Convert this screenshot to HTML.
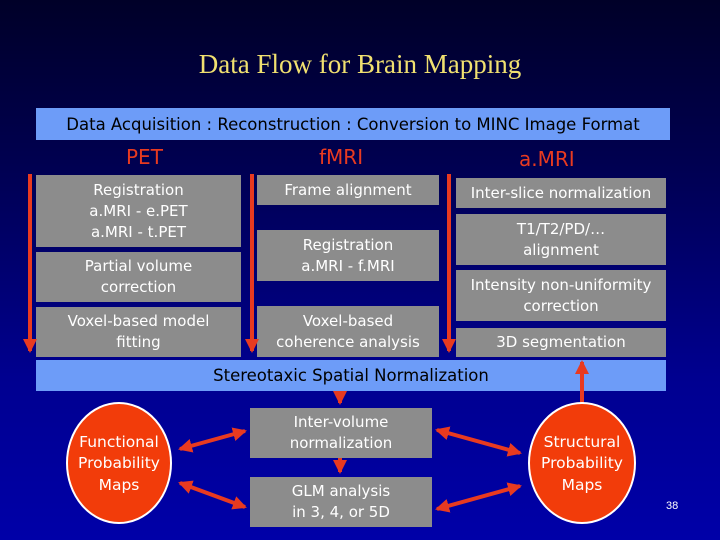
<!DOCTYPE html>
<html><head><meta charset="utf-8"><style>
body{margin:0;width:720px;height:540px;overflow:hidden;background:linear-gradient(#000028 0%,#000050 30%,#000090 70%,#0000a8 100%);font-family:"DejaVu Sans","Liberation Sans",sans-serif;position:relative}
.b{position:absolute;background:#8c8c8c;color:#fff;font-size:15px;line-height:21px;text-align:center;display:flex;align-items:center;justify-content:center}
.bar{position:absolute;background:#6d9cf8;color:#000;font-size:16.5px;display:flex;align-items:center;justify-content:center}
.h{position:absolute;color:#e83a20;font-size:20px}
</style></head><body>
<div style="position:absolute;top:49px;width:720px;text-align:center;font-family:'Liberation Serif',serif;font-size:27px;color:#f0e070">Data Flow for Brain Mapping</div>
<div class="bar" style="left:36px;top:108px;width:634px;height:32px">Data Acquisition : Reconstruction : Conversion to MINC Image Format</div>
<div class="h" style="left:126px;top:145px">PET</div>
<div class="h" style="left:319px;top:145px">fMRI</div>
<div class="h" style="left:519px;top:147px">a.MRI</div>
<div class="b" style="left:36px;top:175px;width:205px;height:72px">Registration<br>a.MRI - e.PET<br>a.MRI - t.PET</div>
<div class="b" style="left:36px;top:252px;width:205px;height:50px">Partial volume<br>correction</div>
<div class="b" style="left:36px;top:307px;width:205px;height:50px">Voxel-based model<br>fitting</div>
<div class="b" style="left:257px;top:175px;width:182px;height:30px">Frame alignment</div>
<div class="b" style="left:257px;top:230px;width:182px;height:51px">Registration<br>a.MRI - f.MRI</div>
<div class="b" style="left:257px;top:306px;width:182px;height:51px">Voxel-based<br>coherence analysis</div>
<div class="b" style="left:456px;top:178px;width:210px;height:30px">Inter-slice normalization</div>
<div class="b" style="left:456px;top:214px;width:210px;height:51px">T1/T2/PD/…<br>alignment</div>
<div class="b" style="left:456px;top:270px;width:210px;height:51px">Intensity non-uniformity<br>correction</div>
<div class="b" style="left:456px;top:328px;width:210px;height:29px">3D segmentation</div>
<div class="bar" style="left:36px;top:360px;width:630px;height:31px">Stereotaxic Spatial Normalization</div>
<div class="b" style="left:250px;top:408px;width:182px;height:50px">Inter-volume<br>normalization</div>
<div class="b" style="left:250px;top:477px;width:182px;height:50px">GLM analysis<br>in 3, 4, or 5D</div>
<svg width="720" height="540" style="position:absolute;left:0;top:0">
<defs><marker id="a" markerWidth="3.5" markerHeight="3.5" refX="3" refY="1.75" orient="auto-start-reverse" markerUnits="strokeWidth"><path d="M0,0L3.5,1.75L0,3.5z" fill="#e83a20"/></marker></defs>
<g stroke="#e83a20" stroke-width="4" fill="none">
<line x1="30" y1="174" x2="30" y2="351" marker-end="url(#a)"/>
<line x1="252" y1="174" x2="252" y2="351" marker-end="url(#a)"/>
<line x1="449" y1="174" x2="449" y2="351" marker-end="url(#a)"/>
<line x1="340" y1="391" x2="340" y2="403" marker-end="url(#a)"/>
<line x1="340" y1="458" x2="340" y2="472" marker-end="url(#a)"/>
<line x1="582" y1="403" x2="582" y2="362" marker-end="url(#a)"/>
<line x1="180" y1="449" x2="245" y2="431" marker-start="url(#a)" marker-end="url(#a)"/>
<line x1="180" y1="483" x2="245" y2="507" marker-start="url(#a)" marker-end="url(#a)"/>
<line x1="437" y1="430" x2="520" y2="453" marker-start="url(#a)" marker-end="url(#a)"/>
<line x1="437" y1="509" x2="520" y2="486" marker-start="url(#a)" marker-end="url(#a)"/>
</g>
<ellipse cx="119" cy="463" rx="52" ry="60" fill="#f23c0a" stroke="#fff" stroke-width="2"/>
<ellipse cx="582" cy="463" rx="53" ry="60" fill="#f23c0a" stroke="#fff" stroke-width="2"/>
<g fill="#fff" font-size="15.5" text-anchor="middle" font-family="DejaVu Sans, Liberation Sans, sans-serif">
<text x="119" y="447">Functional</text><text x="119" y="468">Probability</text><text x="119" y="490">Maps</text>
<text x="582" y="447">Structural</text><text x="582" y="468">Probability</text><text x="582" y="490">Maps</text>
</g>
<text x="666" y="509" fill="#fff" font-size="11" font-family="Liberation Sans, sans-serif">38</text>
</svg>
</body></html>
